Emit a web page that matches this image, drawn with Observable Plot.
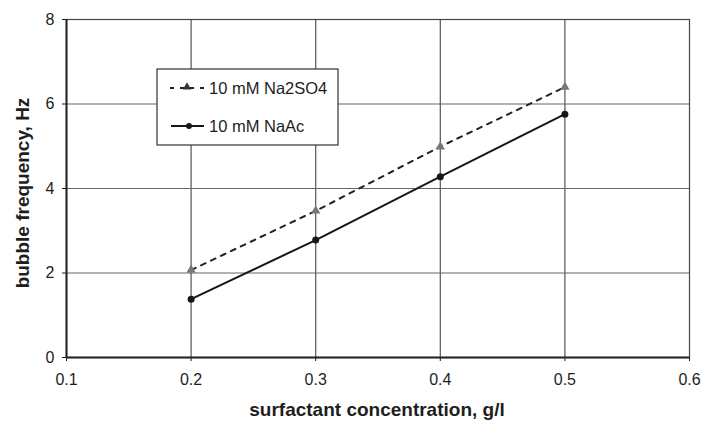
<!DOCTYPE html>
<html><head><meta charset="utf-8">
<script src="https://cdn.jsdelivr.net/npm/d3@7"></script>
<script src="https://cdn.jsdelivr.net/npm/@observablehq/plot@0.6"></script>
<style>
body{margin:0;background:#fff;}
#c{position:relative;width:706px;height:428px;}
svg text{font-family:Arial,"Liberation Sans",sans-serif;}
</style></head><body><div id="c"></div>
<script>
const conc = [0.2, 0.3, 0.4, 0.5];
const na2so4 = [2.07, 3.47, 4.99, 6.4];
const naac = [1.38, 2.78, 4.28, 5.76];
const xTicks = [0.1, 0.2, 0.3, 0.4, 0.5, 0.6];
const yTicks = [0, 2, 4, 6, 8];
const seriesNames = ["10 mM Na2SO4", "10 mM NaAc"];

const d1 = conc.map((c, i) => ({x: c, y: na2so4[i]}));
const d2 = conc.map((c, i) => ({x: c, y: naac[i]}));

const plot = Plot.plot({
  width: 706, height: 428,
  marginLeft: 66, marginRight: 17, marginTop: 19, marginBottom: 71,
  style: {fontFamily: "Arial, 'Liberation Sans', sans-serif", fontSize: "16px", color: "#1e1e1e", background: "#fff"},
  x: {domain: [0.1, 0.6], label: null},
  y: {domain: [0, 8], label: null},
  marks: [
    Plot.gridX(xTicks.slice(1, -1), {stroke: "#555", strokeOpacity: 1, strokeWidth: 1.2}),
    Plot.gridY(yTicks.slice(1, -1), {stroke: "#666", strokeOpacity: 1, strokeWidth: 1.2}),
    Plot.frame({stroke: "#444", strokeWidth: 1.2}),
    Plot.ruleX([0.1], {stroke: "#222", strokeWidth: 2}),
    Plot.ruleY([0], {stroke: "#222", strokeWidth: 2}),
    Plot.line(d1, {x: "x", y: "y", stroke: "#222", strokeWidth: 2, strokeDasharray: "5,6"}),
    Plot.dot(d1, {x: "x", y: "y", symbol: "triangle", r: 3.5, fill: "#777", stroke: "none"}),
    Plot.line(d2, {x: "x", y: "y", stroke: "#1a1616", strokeWidth: 2}),
    Plot.dot(d2, {x: "x", y: "y", symbol: "circle", r: 3.5, fill: "#1a1616", stroke: "none"}),
    Plot.axisX({ticks: xTicks, tickFormat: d => d.toFixed(1), tickSize: 4, tickPadding: 12, fontSize: 16, label: null}),
    Plot.axisY({ticks: yTicks, tickSize: 4, tickPadding: 8, fontSize: 16, label: null})
  ]
});
document.getElementById("c").appendChild(plot);

const svg = d3.select(plot);
// axis titles
svg.append("text").attr("x", 377).attr("y", 416).attr("text-anchor", "middle")
  .style("font-weight", "bold").style("font-size", "19px").attr("fill", "#1e1e1e")
  .text("surfactant concentration, g/l");
svg.append("text").attr("transform", "translate(29,193) rotate(-90)").attr("text-anchor", "middle")
  .style("font-weight", "bold").style("font-size", "19px").attr("fill", "#1e1e1e")
  .text("bubble frequency, Hz");

// legend box
const lg = svg.append("g").attr("text-anchor", "start");
lg.append("rect").attr("x", 157).attr("y", 69).attr("width", 181).attr("height", 76)
  .attr("fill", "#fff").attr("stroke", "#333").attr("stroke-width", 1.2);
lg.append("line").attr("x1", 170).attr("x2", 204).attr("y1", 88).attr("y2", 88)
  .attr("stroke", "#222").attr("stroke-width", 2).attr("stroke-dasharray", "4,6");
lg.append("path").attr("d", d3.symbol(d3.symbolTriangle, 30)()).attr("transform", "translate(187,87)").attr("fill", "#333");
lg.append("text").attr("x", 209).attr("y", 94).attr("text-anchor", "start").style("font-size", "16.5px").attr("fill", "#1e1e1e").text(seriesNames[0]);
lg.append("line").attr("x1", 171).attr("x2", 204).attr("y1", 126).attr("y2", 126)
  .attr("stroke", "#1a1616").attr("stroke-width", 2);
lg.append("circle").attr("cx", 189).attr("cy", 126).attr("r", 3).attr("fill", "#1a1616");
lg.append("text").attr("x", 209).attr("y", 132).attr("text-anchor", "start").style("font-size", "16.5px").attr("fill", "#1e1e1e").text(seriesNames[1]);
</script></body></html>
